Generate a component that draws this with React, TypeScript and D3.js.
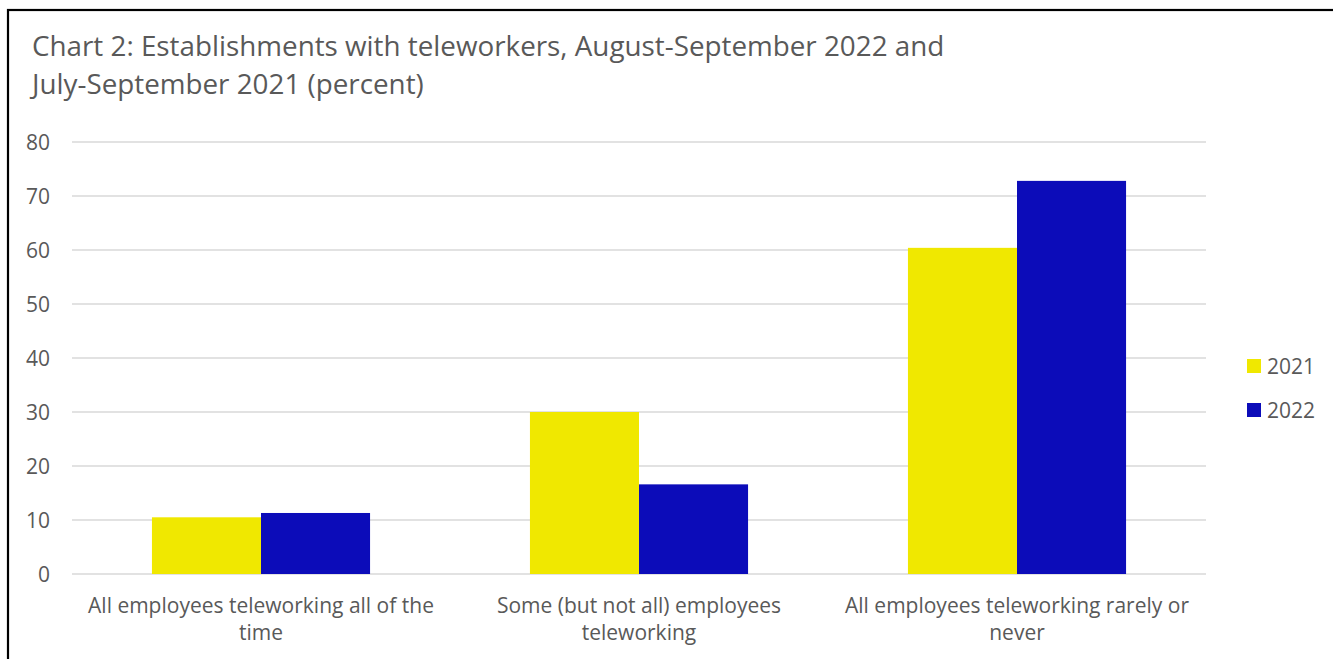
import React from "react";
import * as d3 from "d3";

const categories = [
  "All employees teleworking all of the time",
  "Some (but not all) employees teleworking",
  "All employees teleworking rarely or never",
];
const categoryLines = [
  ["All employees teleworking all of the", "time"],
  ["Some (but not all) employees", "teleworking"],
  ["All employees teleworking rarely or", "never"],
];
const seriesNames = ["2021", "2022"];
const values2021 = [10.5, 30.0, 60.4];
const values2022 = [11.3, 16.6, 72.8];
const yTicks = [0, 10, 20, 30, 40, 50, 60, 70, 80];
const titleLines = [
  "Chart 2: Establishments with teleworkers, August-September 2022 and",
  "July-September 2021 (percent)",
];
const colors = ["#F0E800", "#0C0CB9"];

const W = 1333;
const H = 659;
const FONT = "'Open Sans', sans-serif";
const TEXT = "#595959";

export default function App() {
  const left = 72;
  const right = 1206;
  const top = 142;
  const bottom = 574;

  const x0 = d3
    .scaleBand<string>()
    .domain(categories)
    .range([left, right])
    .paddingInner(0.423)
    .paddingOuter(0.2115);
  const x1 = d3
    .scaleBand<string>()
    .domain(seriesNames)
    .range([0, x0.bandwidth()]);
  const y = d3.scaleLinear().domain([0, 80]).range([bottom, top]);

  const series = [values2021, values2022];

  return (
    <svg
      width={W}
      height={H}
      style={{ position: "absolute", left: 0, top: 0, background: "#fff" }}
      fontFamily={FONT}
    >
      <rect x={0} y={0} width={W} height={H} fill="#fff" />
      <rect
        x={8}
        y={10}
        width={W + 20}
        height={H + 20}
        fill="none"
        stroke="#000"
        strokeWidth={2.2}
      />
      {titleLines.map((t, i) => (
        <text key={i} x={32} y={56 + i * 38} fontSize={27.8} fill={TEXT}>
          {t}
        </text>
      ))}
      {yTicks.map((t) => (
        <g key={t}>
          <line
            x1={left}
            x2={right}
            y1={y(t)}
            y2={y(t)}
            stroke="#D9D9D9"
            strokeWidth={1.4}
          />
          <text
            x={50}
            y={y(t)}
            dy="0.36em"
            textAnchor="end"
            fontSize={21}
            fill={TEXT}
          >
            {t}
          </text>
        </g>
      ))}
      {categories.map((c, ci) => (
        <g key={c} transform={`translate(${x0(c)},0)`}>
          {seriesNames.map((s, si) => (
            <rect
              key={s}
              x={x1(s)}
              y={y(series[si][ci])}
              width={x1.bandwidth()}
              height={y(0) - y(series[si][ci])}
              fill={colors[si]}
            />
          ))}
        </g>
      ))}
      {categories.map((c, ci) => (
        <text
          key={c}
          x={(x0(c) as number) + x0.bandwidth() / 2}
          textAnchor="middle"
          fontSize={21}
          fill={TEXT}
        >
          {categoryLines[ci].map((l, li) => (
            <tspan
              key={li}
              x={(x0(c) as number) + x0.bandwidth() / 2}
              y={613 + li * 27}
            >
              {l}
            </tspan>
          ))}
        </text>
      ))}
      {seriesNames.map((s, si) => (
        <g key={s} transform={`translate(1247,${366 + si * 44})`}>
          <rect x={0} y={-7} width={14} height={14} fill={colors[si]} />
          <text x={20} y={0} dy="0.36em" fontSize={21} fill={TEXT}>
            {s}
          </text>
        </g>
      ))}
    </svg>
  );
}
